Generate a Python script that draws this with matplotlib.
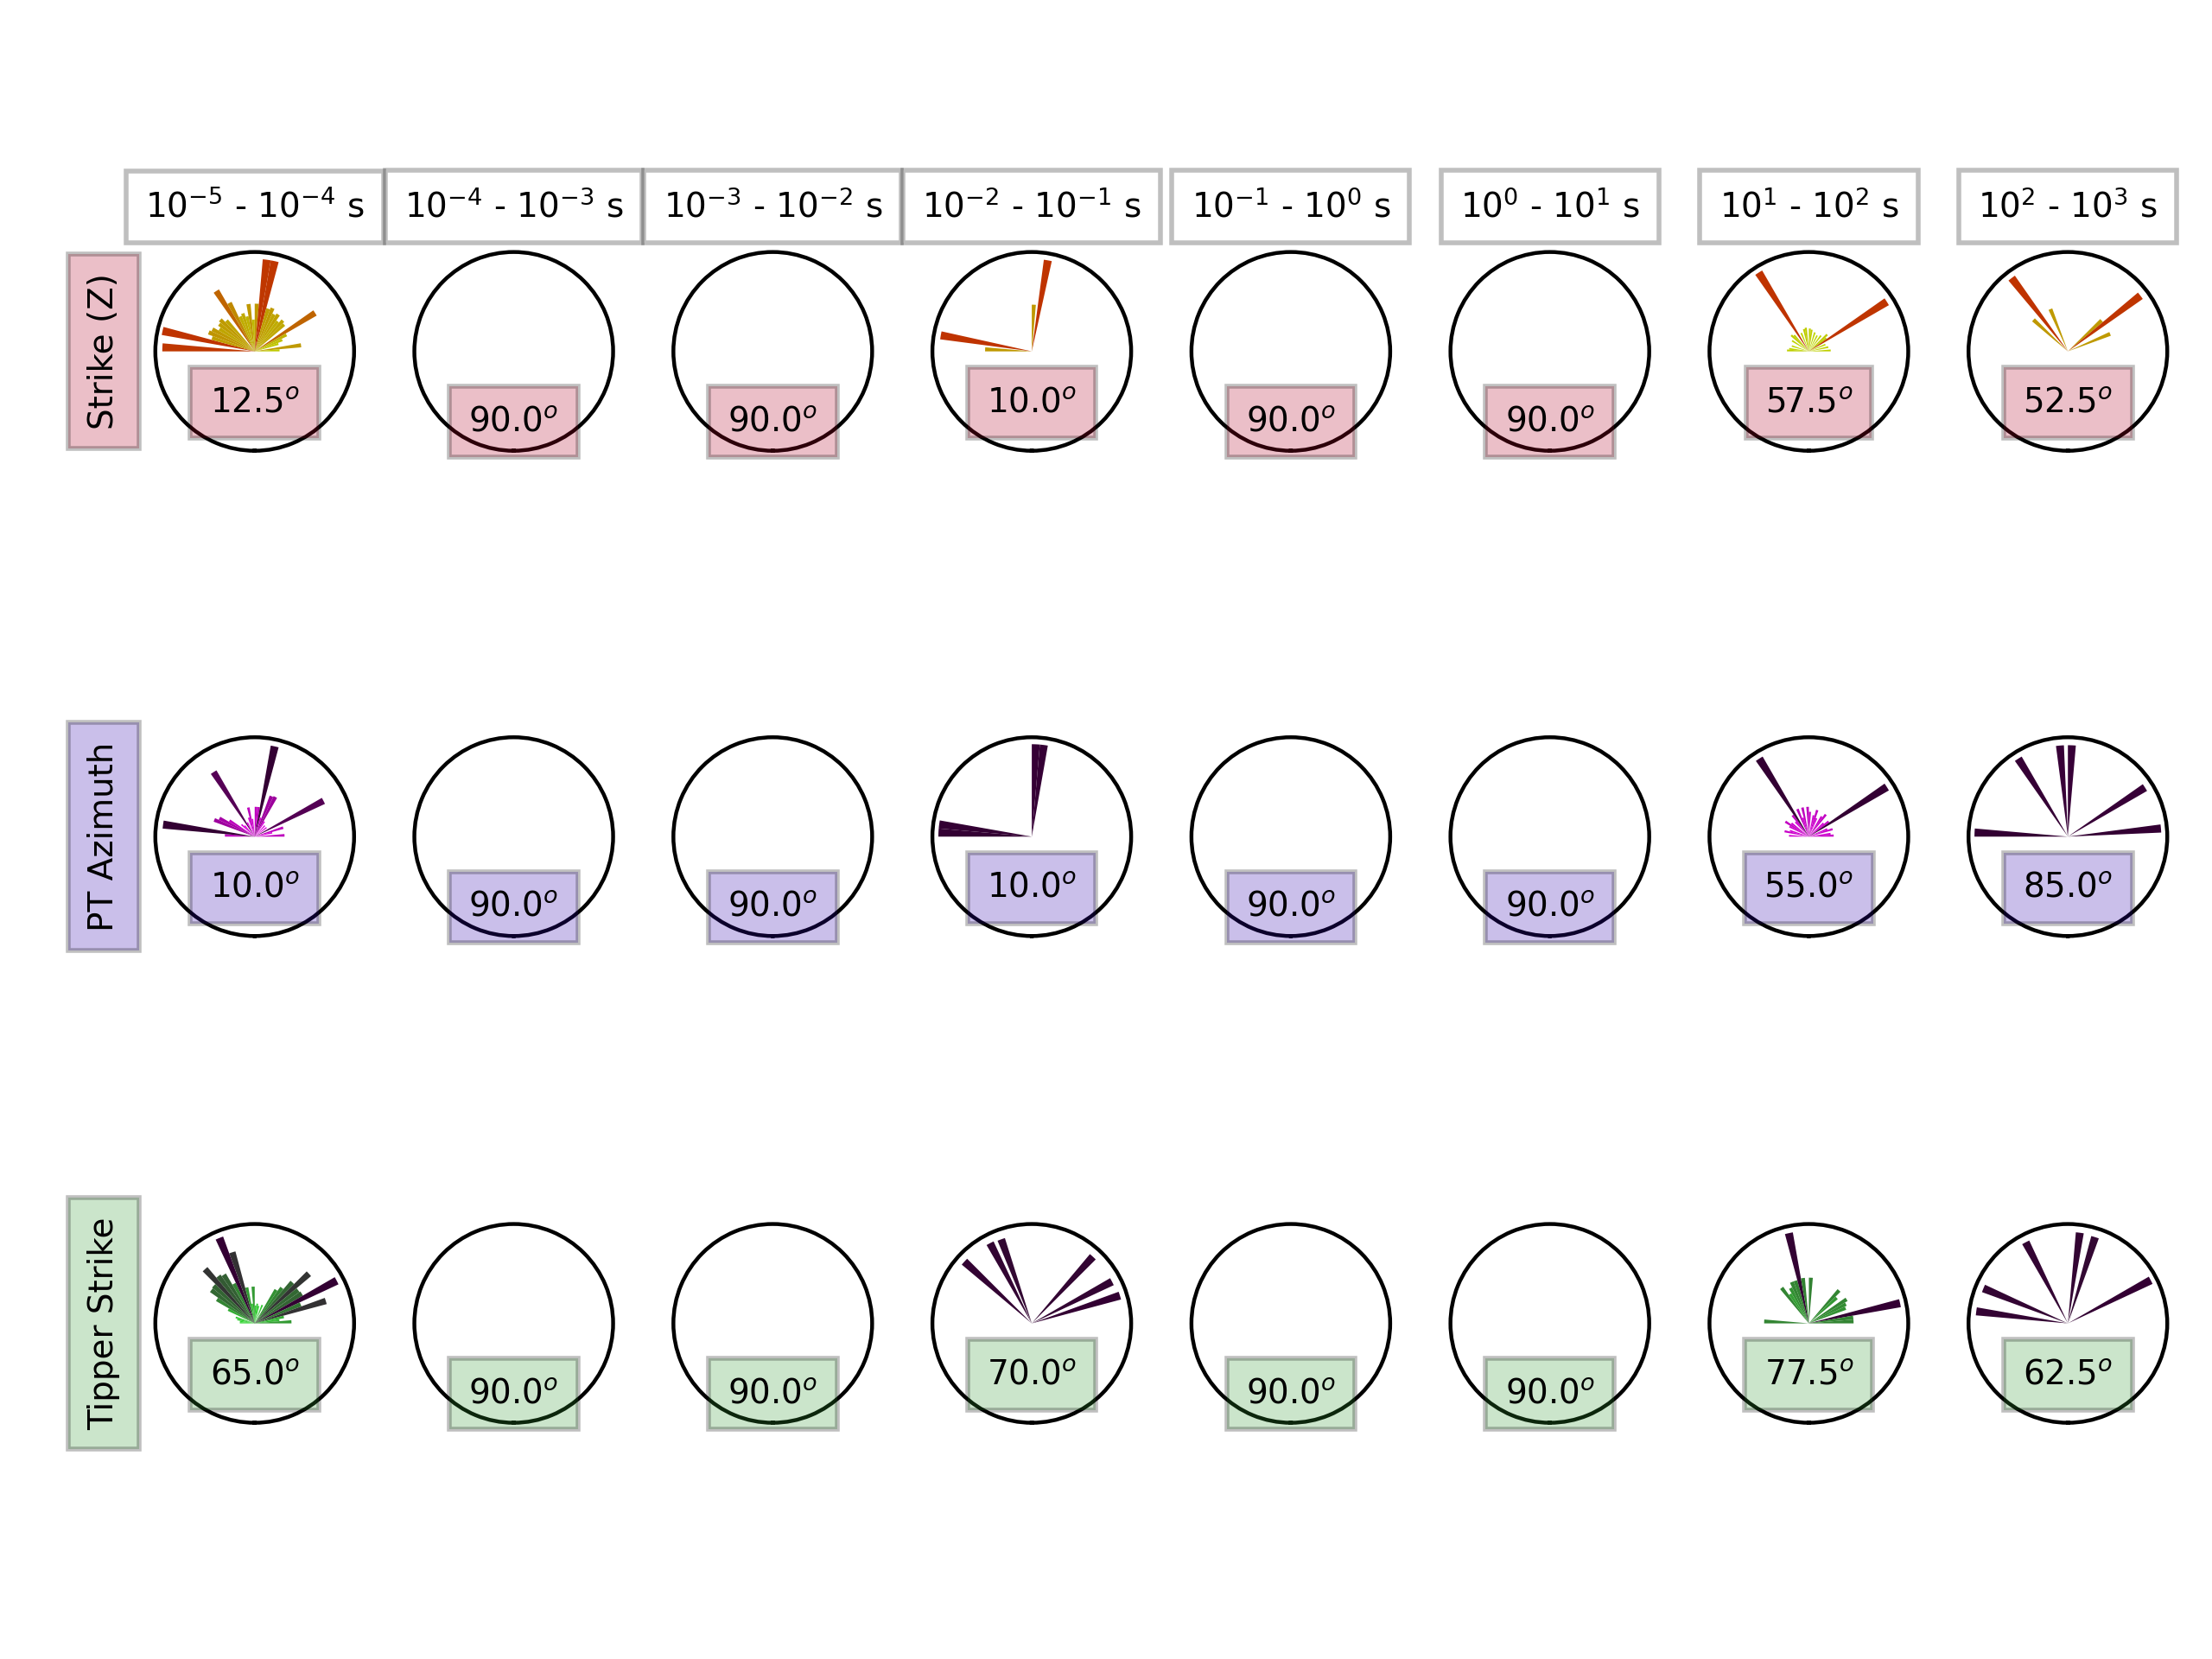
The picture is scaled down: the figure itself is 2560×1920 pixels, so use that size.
# strike rose diagrams for Z, phase tensor and tipper, one column per period decade

import numpy as np
import matplotlib.pyplot as plt

period_titles = ['10$^{-5}$ - 10$^{-4}$ s', '10$^{-4}$ - 10$^{-3}$ s',
                 '10$^{-3}$ - 10$^{-2}$ s', '10$^{-2}$ - 10$^{-1}$ s',
                 '10$^{-1}$ - 10$^{0}$ s', '10$^{0}$ - 10$^{1}$ s',
                 '10$^{1}$ - 10$^{2}$ s', '10$^{2}$ - 10$^{3}$ s']
row_names = ['Strike (Z)', 'PT Azimuth', 'Tipper Strike']

z_medians = [12.5, 90.0, 90.0, 10.0, 90.0, 90.0, 57.5, 52.5]
pt_medians = [10.0, 90.0, 90.0, 10.0, 90.0, 90.0, 55.0, 85.0]
tip_medians = [65.0, 90.0, 90.0, 70.0, 90.0, 90.0, 77.5, 62.5]

# angles in degrees clockwise from north, counts normalised to the rose radius
z_angles = [
    [-87.5, -77.5, -72.5, -67.5, -62.5, -57.5, -52.5, -47.5, -42.5, -32.5, -27.5,
     -22.5, -17.5, -12.5, -7.5, -2.5, 2.5, 7.5, 12.5, 17.5, 22.5, 27.5, 32.5,
     37.5, 42.5, 47.5, 57.5, 62.5, 67.5, 72.5, 82.5, 87.5],
    [], [],
    [-87.5, -80.0, 2.5, 10.0],
    [], [],
    [-87.5, -82.5, -72.5, -57.5, -47.5, -42.5, -32.5, -22.5, -12.5, -7.5, 2.5, 7.5,
     17.5, 27.5, 37.5, 47.5, 52.5, 57.5, 67.5, 77.5, 87.5],
    [-47.5, -37.5, -22.5, 47.5, 52.5, 67.5],
]
z_counts = [
    [0.93, 0.95, 0.45, 0.5, 0.48, 0.42, 0.45, 0.47, 0.42, 0.72, 0.55,
     0.38, 0.4, 0.36, 0.48, 0.32, 0.48, 0.93, 0.93, 0.45, 0.47, 0.42, 0.44,
     0.38, 0.42, 0.4, 0.72, 0.36, 0.3, 0.25, 0.47, 0.25],
    [], [],
    [0.47, 0.93, 0.47, 0.93],
    [], [],
    [0.22, 0.2, 0.18, 0.2, 0.24, 0.22, 0.94, 0.2, 0.23, 0.24, 0.23, 0.22,
     0.2, 0.18, 0.2, 0.25, 0.22, 0.93, 0.18, 0.2, 0.22],
    [0.47, 0.93, 0.46, 0.46, 0.92, 0.46],
]

pt_angles = [
    [-87.5, -82.5, -67.5, -62.5, -57.5, -47.5, -42.5, -32.5, -27.5, -17.5, -12.5,
     -7.5, 2.5, 7.5, 12.5, 17.5, 22.5, 27.5, 32.5, 42.5, 52.5, 62.5, 72.5, 77.5,
     87.5],
    [], [],
    [-87.5, -82.5, 2.5, 7.5],
    [], [],
    [-87.5, -77.5, -72.5, -62.5, -57.5, -52.5, -42.5, -37.5,
     -32.5, -22.5, -17.5, -12.5, -2.5, 2.5, 12.5, 17.5, 22.5,
     32.5, 37.5, 47.5, 52.5, 57.5, 67.5, 72.5, 82.5, 87.5],
    [-87.5, -32.5, -5.0, 2.5, 57.5, 85.0],
]
pt_counts = [
    [0.3, 0.93, 0.44, 0.4, 0.3, 0.18, 0.15, 0.77, 0.16, 0.2, 0.3,
     0.18, 0.3, 0.3, 0.93, 0.2, 0.44, 0.45, 0.18, 0.15, 0.15, 0.78, 0.3, 0.18,
     0.3],
    [], [],
    [0.94, 0.94, 0.93, 0.93],
    [], [],
    [0.2, 0.25, 0.2, 0.22, 0.28, 0.22, 0.2, 0.27,
     0.93, 0.3, 0.2, 0.3, 0.3, 0.25, 0.22, 0.28, 0.2,
     0.24, 0.28, 0.2, 0.25, 0.93, 0.2, 0.25, 0.22, 0.25],
    [0.94, 0.93, 0.92, 0.92, 0.92, 0.94],
]

tip_angles = [
    [-87.5, -82.5, -77.5, -72.5, -62.5, -57.5, -52.5, -47.5, -42.5, -37.5, -32.5,
     -27.5, -22.5, -17.5, -12.5, -7.5, -2.5, 2.5, 7.5, 12.5, 22.5, 32.5, 37.5,
     42.5, 47.5, 52.5, 57.5, 62.5, 67.5, 72.5, 77.5, 82.5, 87.5],
    [], [],
    [-47.5, -27.5, -20.0, 42.5, 62.5, 72.5],
    [], [],
    [-87.5, -37.5, -32.5, -27.5, -22.5, -17.5, -12.5, -7.5, 2.5, 42.5, 47.5,
     57.5, 62.5, 67.5, 77.5, 82.5, 87.5],
    [-82.5, -67.5, -27.5, 7.5, 17.5, 62.5],
]
tip_counts = [
    [0.15, 0.15, 0.18, 0.2, 0.3, 0.45, 0.55, 0.56, 0.74, 0.6, 0.58,
     0.45, 0.93, 0.75, 0.37, 0.2, 0.37, 0.18, 0.2, 0.18, 0.2, 0.4, 0.45,
     0.56, 0.74, 0.55, 0.56, 0.93, 0.5, 0.75, 0.3, 0.25, 0.37],
    [], [],
    [0.92, 0.91, 0.9, 0.91, 0.91, 0.93],
    [], [],
    [0.45, 0.45, 0.35, 0.4, 0.45, 0.45, 0.93, 0.46, 0.46, 0.45, 0.38,
     0.45, 0.42, 0.4, 0.94, 0.45, 0.45],
    [0.93, 0.92, 0.92, 0.92, 0.91, 0.94],
]


def z_color(f):
    return (0.75, 1 - 0.8 * f, 0)


def pt_color(f):
    return (1 - 0.8 * f, 0, 1 - 0.8 * f)


def tip_color(f):
    return (0.2, 1 - f, 0.2)


rows = [(z_angles, z_counts, z_medians, z_color, (0.7, 0, 0.15)),
        (pt_angles, pt_counts, pt_medians, pt_color, (0.18, 0, 0.68)),
        (tip_angles, tip_counts, tip_medians, tip_color, (0.2, 0.6, 0.2))]

fig = plt.figure(figsize=(6.4, 4.8), dpi=400)
bottoms = [0.7283, 0.4358, 0.1424]

for rr, (angles, counts, medians, cfunc, boxcolor) in enumerate(rows):
    for cc in range(len(period_titles)):
        ax = fig.add_axes([0.0702 + cc * 0.1171, bottoms[rr], 0.0899, 0.1198],
                          projection='polar')
        # zero at south, counter clockwise -> north is 180, east is 90
        ax.set_theta_zero_location('S')
        ang = np.array(angles[cc])
        cnt = np.array(counts[cc])
        if len(cnt) > 0:
            cols = [cfunc(v / cnt.max()) for v in cnt]
            ax.bar(np.deg2rad(180 - ang), cnt, width=np.deg2rad(5), color=cols,
                   edgecolor='none', linewidth=0)
            ty = 0.241
        else:
            ty = 0.145
        ax.set_ylim(0, 1)
        ax.set_xticks([])
        ax.set_yticks([])
        ax.grid(False)

        ax.text(0.5, ty, '%.1f$^o$' % medians[cc], transform=ax.transAxes,
                ha='center', va='center', fontsize=7,
                bbox={'facecolor': boxcolor, 'alpha': 0.25})
        if rr == 0:
            ax.text(0.5, 1.227, period_titles[cc], transform=ax.transAxes,
                    ha='center', va='center', fontsize=7,
                    bbox={'facecolor': 'white', 'alpha': 0.25})
        if cc == 0:
            ax.text(-0.26, 0.5, row_names[rr], transform=ax.transAxes,
                    ha='center', va='center', rotation=90, fontsize=7,
                    bbox={'facecolor': boxcolor, 'alpha': 0.25})

fig.savefig('out.png', dpi=400)
